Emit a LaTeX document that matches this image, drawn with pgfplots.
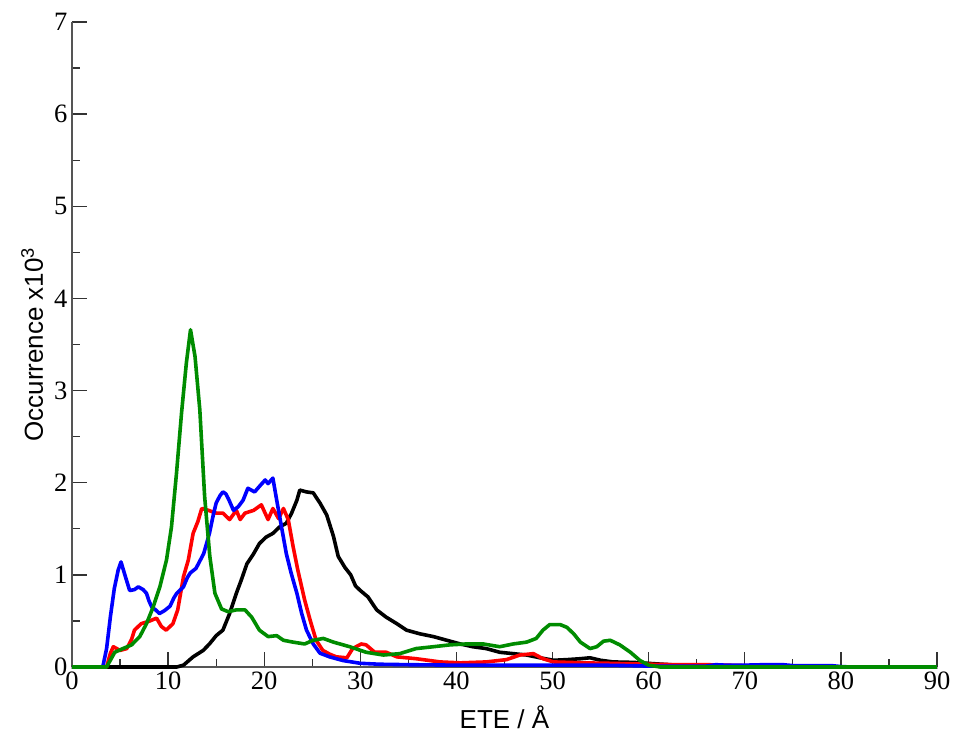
\documentclass[border=0pt]{standalone}
\usepackage{pgfplots}
\pgfplotsset{compat=1.18}
\usepackage{fontspec}
\setmainfont{Liberation Serif}
\newfontfamily\arialfont{Liberation Sans}
\definecolor{axgray}{RGB}{85,85,85}
\definecolor{ggreen}{RGB}{0,140,0}
\begin{document}
\begin{tikzpicture}
\path[use as bounding box] (-72pt,-69pt) rectangle (883pt,667pt);
\begin{axis}[
  at={(0,0)}, anchor=south west,
  scale only axis, width=865pt, height=645pt,
  xmin=0, xmax=90, ymin=0, ymax=7,
  axis x line*=bottom, axis y line*=left,
  axis line style={axgray, line width=1.8pt, -},
  xtick={0,10,...,90}, ytick={0,1,...,7},
  minor x tick num=1, minor y tick num=1,
  tick align=inside,
  major tick length=15pt, minor tick length=8pt,
  every tick/.style={black!80, line width=1.3pt},
  /pgf/number format/assume math mode=true,
  ticklabel style={font=\fontsize{26.5}{30}\selectfont},
  xticklabel style={yshift=-1pt},
  yticklabel style={xshift=-1pt},
  xlabel={ETE / Å}, ylabel={Occurrence x10\textsuperscript{3}},
  xlabel style={font=\arialfont\fontsize{26}{30}\selectfont, at={(axis description cs:0.5,-0.0946)}, anchor=base},
  ylabel style={font=\arialfont\fontsize{26}{30}\selectfont, at={(axis description cs:-0.046,0.5)}, anchor=center},
  clip=false,
  every axis plot/.append style={line width=3.6pt, line join=round, mark=none},
]
\addplot[black] coordinates {(0,0) (10.9,0) (11.6,0.02) (12.6,0.11) (13.65,0.18) (14.3,0.25) (15.0,0.34) (15.7,0.4) (16.4,0.58) (17.1,0.8) (17.6,0.94) (18.2,1.12) (18.9,1.23) (19.5,1.34) (20.2,1.41) (20.9,1.45) (21.6,1.52) (22.3,1.56) (22.85,1.67) (23.4,1.81) (23.7,1.92) (24.4,1.9) (25.1,1.89) (25.8,1.78) (26.5,1.65) (27.2,1.42) (27.7,1.2) (28.4,1.08) (29.0,1.0) (29.5,0.88) (30.0,0.83) (30.8,0.76) (31.7,0.62) (32.7,0.54) (33.8,0.47) (34.8,0.4) (36.2,0.36) (37.6,0.33) (39,0.29) (40.4,0.25) (41.7,0.22) (43.1,0.2) (44.5,0.16) (45.9,0.145) (47.3,0.13) (48.7,0.1) (50.1,0.073) (51.5,0.08) (52.9,0.09) (53.9,0.1) (55,0.073) (56.3,0.055) (58.4,0.05) (60.5,0.036) (63,0.02) (66,0.012) (70,0.01) (76,0.01) (78,0.01) (79,0) (90,0)};
\addplot[red] coordinates {(0,0) (3.6,0) (4.0,0.15) (4.3,0.22) (5.0,0.18) (5.7,0.2) (6.2,0.3) (6.5,0.4) (7.2,0.47) (8.1,0.5) (8.8,0.53) (9.3,0.44) (9.8,0.4) (10.5,0.47) (11.0,0.62) (11.6,0.98) (12.1,1.16) (12.6,1.45) (13.1,1.58) (13.5,1.72) (14.2,1.7) (15.0,1.67) (15.7,1.67) (16.4,1.6) (17.1,1.7) (17.5,1.6) (18.0,1.67) (18.9,1.7) (19.7,1.76) (20.4,1.6) (20.9,1.72) (21.5,1.61) (22.0,1.72) (22.5,1.6) (23.0,1.31) (23.5,1.05) (24.2,0.73) (24.8,0.5) (25.4,0.29) (26.1,0.18) (26.8,0.14) (27.5,0.11) (28.6,0.1) (29.2,0.2) (30.1,0.25) (30.6,0.24) (31.5,0.16) (32.7,0.16) (33.8,0.11) (35.8,0.09) (38.3,0.055) (40.4,0.045) (43.1,0.055) (45.2,0.08) (46.6,0.13) (48,0.145) (49,0.09) (50.1,0.055) (53.2,0.045) (56,0.04) (60,0.03) (63,0.025) (66,0.025) (70,0.015) (75,0.005) (77,0) (90,0)};
\addplot[blue] coordinates {(0,0) (3.2,0) (3.6,0.2) (4.0,0.55) (4.4,0.85) (4.8,1.05) (5.1,1.14) (5.5,1.0) (6.0,0.83) (6.5,0.84) (6.9,0.87) (7.4,0.84) (7.75,0.8) (8.0,0.72) (8.3,0.65) (8.7,0.62) (9.1,0.58) (9.6,0.61) (10.2,0.66) (10.6,0.75) (10.9,0.8) (11.6,0.87) (12.0,0.97) (12.3,1.02) (12.9,1.07) (13.3,1.15) (13.7,1.23) (14.3,1.45) (14.7,1.65) (15.0,1.78) (15.4,1.86) (15.7,1.9) (16.0,1.88) (16.3,1.82) (16.8,1.7) (17.3,1.74) (17.8,1.81) (18.3,1.94) (19.0,1.9) (19.5,1.96) (20.1,2.03) (20.4,1.99) (20.9,2.05) (21.3,1.81) (21.8,1.52) (22.3,1.23) (22.8,1.02) (23.4,0.8) (23.9,0.58) (24.4,0.4) (25.1,0.25) (25.8,0.15) (26.8,0.11) (28.2,0.07) (30,0.04) (32,0.03) (35,0.025) (40,0.02) (45,0.02) (50,0.02) (55,0.02) (58,0.015) (60,0.01) (66,0.01) (67,0.025) (68,0.02) (70,0.02) (72,0.025) (74,0.025) (75,0.015) (79,0.015) (80,0.005) (81,0) (90,0)};
\addplot[ggreen] coordinates {(0,0) (3.6,0) (4.45,0.16) (5.3,0.2) (6.2,0.24) (7.05,0.33) (7.75,0.47) (8.44,0.65) (9.14,0.87) (9.83,1.16) (10.35,1.52) (10.87,2.1) (11.4,2.76) (11.9,3.3) (12.33,3.66) (12.8,3.37) (13.3,2.79) (13.8,1.85) (14.34,1.2) (14.87,0.8) (15.56,0.63) (16.25,0.6) (17.1,0.62) (18.0,0.62) (18.7,0.54) (19.5,0.4) (20.4,0.33) (21.3,0.34) (22,0.29) (23,0.27) (24.2,0.25) (25.1,0.29) (26.15,0.31) (27.2,0.27) (28.9,0.22) (30.6,0.16) (32.4,0.13) (34.1,0.145) (35.8,0.2) (37.6,0.22) (39.3,0.24) (41,0.25) (42.8,0.25) (44.5,0.22) (45.9,0.25) (47.3,0.27) (48.3,0.31) (49.0,0.4) (49.7,0.46) (50.8,0.46) (51.5,0.43) (52.2,0.36) (52.9,0.27) (53.9,0.2) (54.6,0.22) (55.3,0.28) (56.0,0.29) (57,0.24) (58.1,0.16) (59.1,0.07) (60,0.02) (61.2,0) (90,0)};
\end{axis}
\end{tikzpicture}
\end{document}
